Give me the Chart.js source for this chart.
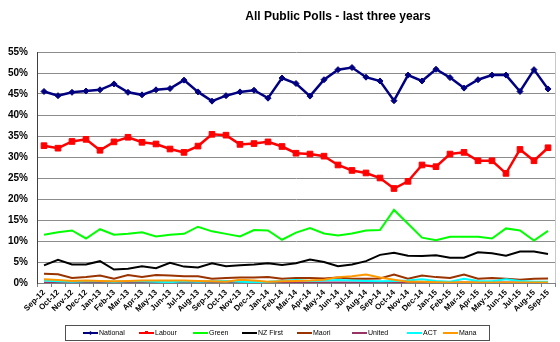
<!DOCTYPE html>
<html>
<head>
<meta charset="utf-8">
<script src="https://cdn.jsdelivr.net/npm/chart.js@4"></script>
<style>
  html, body { margin: 0; padding: 0; background: #fff; }
  #wrap { width: 560px; height: 342px; }
</style>
</head>
<body>
<div id="wrap"><canvas id="polls" width="560" height="342"></canvas></div>
<script>
// Monthly poll averages, Sep 2012 – Sep 2015 (percent)
const months = ['Sep-12','Oct-12','Nov-12','Dec-12','Jan-13','Feb-13','Mar-13','Apr-13','May-13','Jun-13','Jul-13','Aug-13',
  'Sep-13','Oct-13','Nov-13','Dec-13','Jan-14','Feb-14','Mar-14','Apr-14','May-14','Jun-14','Jul-14','Aug-14',
  'Sep-14','Oct-14','Nov-14','Dec-14','Jan-15','Feb-15','Mar-15','Apr-15','May-15','Jun-15','Jul-15','Aug-15','Sep-15'];

const national = [45.6,44.6,45.4,45.7,46.0,47.4,45.4,44.8,46.0,46.3,48.3,45.5,43.3,44.6,45.5,45.9,44.0,48.8,47.5,44.5,48.4,50.8,51.3,49.0,48.1,43.4,49.5,48.1,50.9,48.9,46.4,48.4,49.5,49.5,45.6,50.8,46.2];
const labour   = [32.7,32.1,33.7,34.2,31.6,33.6,34.7,33.5,33.1,31.9,31.1,32.6,35.4,35.2,33.0,33.2,33.6,32.5,30.9,30.7,30.2,28.1,26.8,26.2,25.0,22.5,24.2,28.1,27.7,30.7,31.1,29.1,29.1,26.1,31.8,29.1,32.2];
const green    = [11.5,12.1,12.5,10.6,12.8,11.5,11.7,12.1,11.1,11.5,11.7,13.4,12.3,11.7,11.1,12.6,12.5,10.3,12.0,13.1,11.8,11.3,11.8,12.5,12.6,17.4,14.1,10.8,10.2,11.0,11.0,11.0,10.6,13.0,12.5,10.1,12.4];
const nzFirst  = [4.2,5.5,4.4,4.4,5.2,3.2,3.4,4.0,3.5,4.8,3.9,3.7,4.7,4.0,4.2,4.4,4.7,4.3,4.7,5.6,5.0,4.0,4.4,5.2,6.7,7.2,6.5,6.4,6.6,6.0,6.0,7.3,7.1,6.5,7.5,7.5,6.9];
const maori    = [2.2,2.1,1.2,1.45,1.8,1.0,1.9,1.45,1.9,1.8,1.6,1.6,1.0,1.2,1.3,1.3,1.45,1.0,1.2,1.2,1.1,1.3,1.0,1.0,1.1,2.0,1.0,1.8,1.4,1.2,2.0,1.0,1.2,1.0,0.8,1.0,1.1];
const united   = [0.1,0.1,0.1,0.1,0.1,0.1,0.1,0.1,0.1,0.1,0.2,0.2,0.1,0.1,0.1,0.1,0.1,0.1,0.1,0.1,0.1,0.1,0.1,0.1,0.1,0.1,0.1,0.1,0.1,0.1,0.1,0.1,0.1,0.1,0.1,0.1,0.1];
const act      = [0.6,0.4,0.3,0.4,0.4,0.3,0.4,0.4,0.3,0.2,0.4,0.3,0.4,0.5,0.3,0.2,0.3,0.5,0.7,0.5,0.6,0.7,0.6,0.5,0.4,0.5,0.6,0.9,0.5,0.3,1.0,0.5,0.4,0.9,0.5,0.3,0.3];
const mana     = [0.9,0.7,0.5,0.6,0.5,0.4,0.5,0.6,0.6,0.6,0.6,0.5,0.4,0.3,0.8,0.6,0.3,0.4,0.5,0.6,0.8,1.4,1.6,2.0,1.3,0.8,0.3,0.3,0.2,0.1,0.2,0.1,0.1,0.1,0.1,0.1,0.1];

const yTicks = { min: 0, max: 55, step: 5 };
const chartTitle = 'All Public Polls - last three years';

const FONT = '"Liberation Sans", Arial, sans-serif';

function series(label, data, color, width, extra) {
  return Object.assign({
    label, data,
    borderColor: color,
    backgroundColor: color,
    borderWidth: width,
    pointRadius: 0,
    pointHoverRadius: 0,
    tension: 0,
    fill: false
  }, extra || {});
}

const datasets = [
  series('National', national, '#000080', 2.5, { pointStyle: 'rectRot', pointRadius: 3, pointBorderWidth: 1 }),
  series('Labour',   labour,   '#FF0000', 2.5, { pointStyle: 'rect', pointRadius: 4, pointBorderWidth: 1 }),
  series('Green',    green,    '#00FF00', 2),
  series('NZ First', nzFirst,  '#000000', 2),
  series('Maori',    maori,    '#993300', 2),
  series('United',   united,   '#993366', 2),
  series('ACT',      act,      '#00FFFF', 2),
  series('Mana',     mana,     '#FF9900', 2)
];
// later parties paint over earlier ones
datasets.forEach((d, i) => { d.order = -i; });

// title, right frame edge and boxed legend
const decorations = {
  id: 'decorations',
  afterDraw(chart) {
    const { ctx, chartArea } = chart;
    ctx.save();

    // light frame on the right side of the plot
    ctx.strokeStyle = '#c8c8c8';
    ctx.lineWidth = 1;
    ctx.beginPath();
    ctx.moveTo(chartArea.right + 0.5, chartArea.top);
    ctx.lineTo(chartArea.right + 0.5, chartArea.bottom);
    ctx.stroke();

    // title
    ctx.fillStyle = '#000';
    ctx.font = 'bold 12px ' + FONT;
    ctx.textAlign = 'center';
    ctx.textBaseline = 'middle';
    ctx.fillText(chartTitle, 338, 17);

    // legend box
    ctx.strokeStyle = '#505050';
    ctx.strokeRect(65.5, 325.5, 424, 15);

    const starts = [83, 139, 193, 242, 297, 352, 407, 443];
    const ly = 333;
    ctx.font = '7px ' + FONT;
    ctx.textAlign = 'left';
    chart.data.datasets.forEach((ds, i) => {
      const x = starts[i];
      ctx.strokeStyle = ds.borderColor;
      ctx.lineWidth = 2;
      ctx.beginPath();
      ctx.moveTo(x, ly);
      ctx.lineTo(x + 15, ly);
      ctx.stroke();
      if (ds.pointStyle && ds.pointRadius) {
        ctx.fillStyle = ds.borderColor;
        if (ds.pointStyle === 'rect') {
          ctx.fillRect(x + 6, ly - 2, 3, 3);
        } else {
          ctx.beginPath();
          ctx.moveTo(x + 7.5, ly - 2);
          ctx.lineTo(x + 9.5, ly);
          ctx.lineTo(x + 7.5, ly + 2);
          ctx.lineTo(x + 5.5, ly);
          ctx.closePath();
          ctx.fill();
        }
      }
      ctx.fillStyle = '#000';
      ctx.fillText(ds.label, x + 16, ly);
    });
    ctx.restore();
  }
};

new Chart(document.getElementById('polls'), {
  type: 'line',
  data: { labels: months, datasets },
  options: {
    responsive: false,
    animation: false,
    devicePixelRatio: 1,
    layout: { padding: { top: 52, bottom: 24, left: 0, right: 5 } },
    plugins: {
      legend: { display: false },
      title: { display: false },
      tooltip: { enabled: false }
    },
    scales: {
      x: {
        offset: true,
        afterFit(scale) { scale.height = 35; },
        grid: {
          offset: true,
          drawOnChartArea: false,
          drawTicks: true,
          tickLength: 4,
          color: '#808080'
        },
        border: { color: '#808080', width: 1 },
        ticks: {
          autoSkip: false,
          minRotation: 45,
          maxRotation: 45,
          padding: 1,
          color: '#000',
          font: { family: FONT, size: 8, weight: 'bold' }
        }
      },
      y: {
        min: yTicks.min,
        max: yTicks.max,
        afterFit(scale) { scale.width = 37; },
        grid: {
          color: '#8c8c8c',
          lineWidth: 1,
          drawTicks: false
        },
        border: { color: '#404040', width: 1 },
        ticks: {
          stepSize: yTicks.step,
          padding: 9,
          color: '#000',
          font: { family: FONT, size: 10, weight: 'bold' },
          callback: v => v + '%'
        }
      }
    }
  },
  plugins: [decorations]
});
</script>
</body>
</html>
